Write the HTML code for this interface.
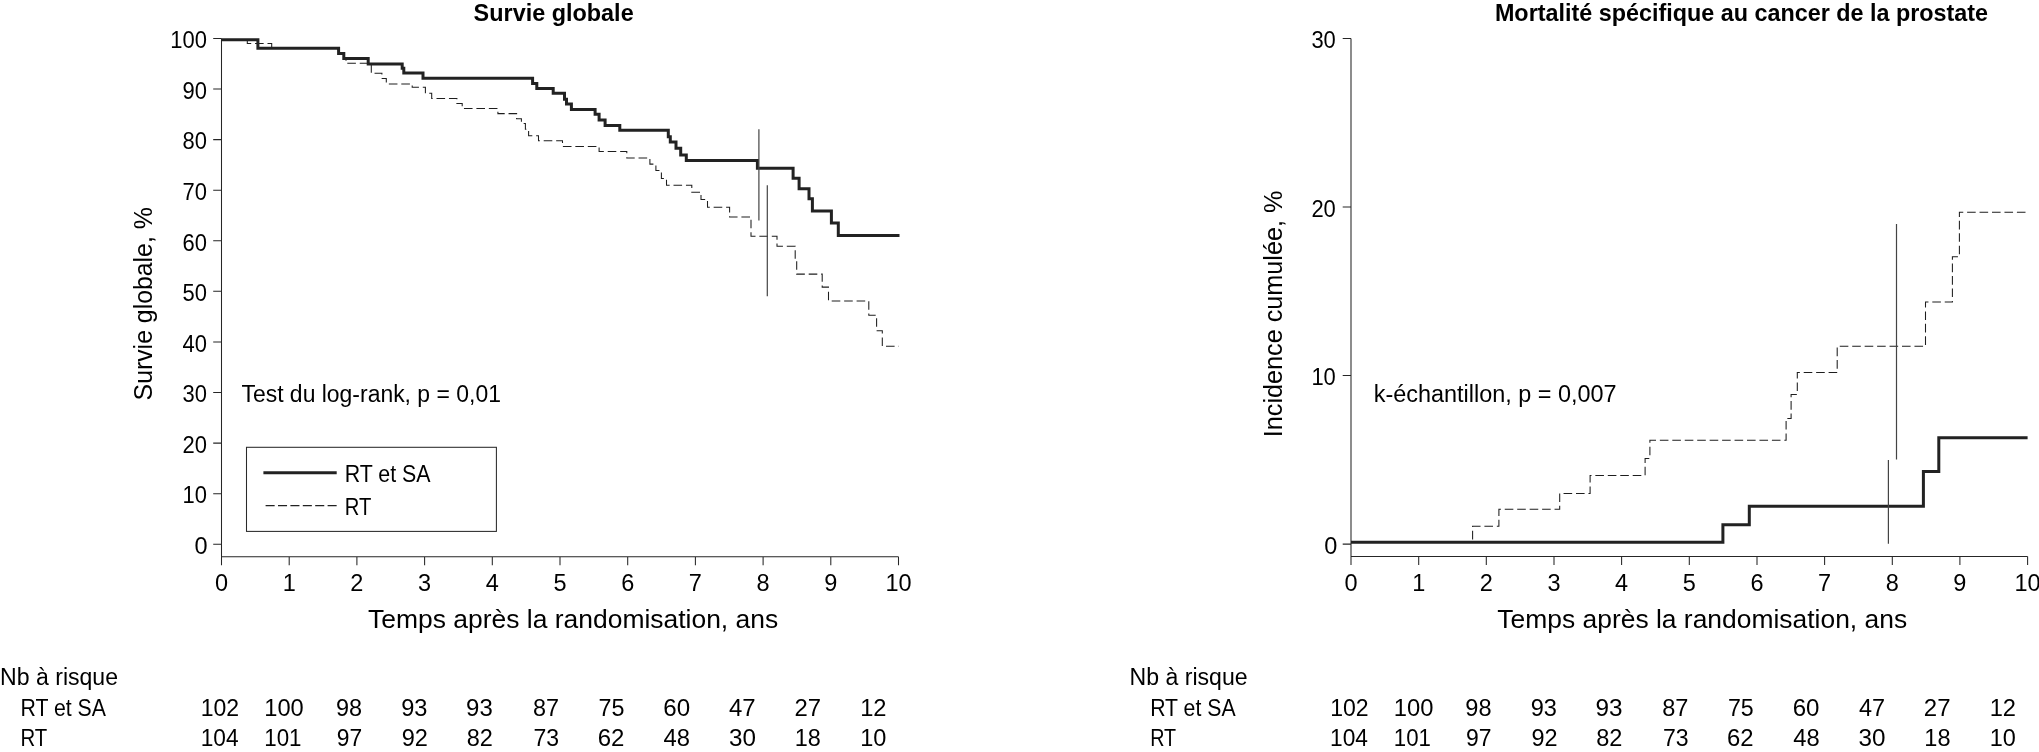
<!DOCTYPE html>
<html><head><meta charset="utf-8"><title>Survie globale</title>
<style>html,body{margin:0;padding:0;background:#fff;}body{width:2039px;height:752px;overflow:hidden;}svg{display:block;will-change:transform;}</style></head><body>
<svg width="2039" height="752" viewBox="0 0 2039 752">
<rect width="2039" height="752" fill="#fff"/>
<path d="M221.5,38.4 V556.7 H898.5 M213.2,544.3 H221.5 M213.2,493.7 H221.5 M213.2,443.1 H221.5 M213.2,392.5 H221.5 M213.2,341.9 H221.5 M213.2,291.3 H221.5 M213.2,240.8 H221.5 M213.2,190.2 H221.5 M213.2,139.6 H221.5 M213.2,89.0 H221.5 M213.2,38.4 H221.5 M221.5,556.7 V565.2 M289.2,556.7 V565.2 M356.9,556.7 V565.2 M424.6,556.7 V565.2 M492.3,556.7 V565.2 M560.0,556.7 V565.2 M627.7,556.7 V565.2 M695.4,556.7 V565.2 M763.1,556.7 V565.2 M830.8,556.7 V565.2 M898.5,556.7 V565.2 M1351,38.4 V556.5 H2027.6 M1342.7,544.1 H1351 M1342.7,375.5 H1351 M1342.7,207.0 H1351 M1342.7,38.4 H1351 M1351.0,556.5 V565 M1418.7,556.5 V565 M1486.3,556.5 V565 M1554.0,556.5 V565 M1621.6,556.5 V565 M1689.3,556.5 V565 M1757.0,556.5 V565 M1824.6,556.5 V565 M1892.3,556.5 V565 M1959.9,556.5 V565 M2027.6,556.5 V565" fill="none" stroke="#262626" stroke-width="1.05"/>
<path d="M221.5,39.6 H247.3 V43.4 H271.7 V48.2 H338.6 V53.4 H343.8 V58.5 H346 V63.2 H371.3 V73.3 H381.9 V78.5 H386.3 V83.9 H412.2 V87.3 H425.4 V93.3 H431.7 V98.5 H456.9 V103.4 H462.2 V108.4 H497.9 V113.6 H516.6 V118.8 H521.4 V123.4 H525.4 V129.3 H528.6 V135.8 H538.5 V140.7 H562.5 V146.4 H599.1 V151.4 H626.8 V157.9 H649.9 V164.1 H655.9 V170.5 H661.4 V178.5 H666.5 V185.2 H691.8 V192.2 H701 V199.5 H707.5 V207.3 H729.6 V216.9 H751 V236.3 H777 V246.2 H795.2 V259.7 H796.7 V274.1 H822.2 V287.1 H828.5 V300.9 H868.8 V315.3 H876.6 V330.7 H882.3 V346.2 H898.8" fill="none" stroke="#1e1e1e" stroke-width="1.05" stroke-dasharray="8.6 3.85"/>
<path d="M1351,542.3 H1472.6 V526.3 H1498.9 V509.3 H1559.7 V493.4 H1590.1 V475.4 H1645.1 V458.5 H1649.9 V440.3 H1786.1 V418.4 H1791.1 V394.4 H1797.3 V372.5 H1837.2 V346.3 H1925.5 V301.9 H1952.4 V256.7 H1959.4 V212.2 H2027.7" fill="none" stroke="#1e1e1e" stroke-width="1.05" stroke-dasharray="8.6 3.85"/>
<path d="M221.5,39.7 H257.9 V48.2 H338.6 V53.4 H343.8 V58.5 H368.2 V64.1 H402.2 V68.3 H403.8 V73.0 H423 V78.2 H532.6 V83.5 H536.8 V88.6 H553.2 V93.2 H564.5 V99.2 H566.5 V103.9 H571.4 V109.5 H595.1 V114.3 H599.1 V120.1 H605.1 V125.4 H619.8 V130.2 H668.3 V136.8 H670.3 V142.1 H676 V148.3 H680.7 V154.9 H686.3 V160.4 H757.4 V168.2 H793.1 V178.2 H799.1 V188.8 H809 V198.8 H812.4 V210.9 H831.4 V223.1 H838.3 V235.5 H899.5" fill="none" stroke="#222" stroke-width="3"/>
<path d="M1351,542.3 H1722.9 V524.8 H1749.3 V506.2 H1923.4 V471.6 H1938.8 V437.7 H2027.6" fill="none" stroke="#222" stroke-width="3"/>
<path d="M758.9,129.3 V220.5 M767.3,185.2 V296.2 M1896.5,223.9 V459.6 M1888.4,460 V543.8" fill="none" stroke="#444" stroke-width="1.2"/>
<rect x="246.5" y="447.3" width="249.9" height="84.1" fill="none" stroke="#2a2a2a" stroke-width="1.05"/>
<path d="M263.4,472.8 H336.7" stroke="#222" stroke-width="3"/>
<path d="M265.6,505.6 H337" stroke="#222" stroke-width="1.2" stroke-dasharray="9.05 3.35"/>
<g font-family="'Liberation Sans', Arial, sans-serif" fill="#000" font-size="23.5">
<text x="473.62" y="20.75" font-weight="bold" font-size="23.8" textLength="160.05" lengthAdjust="spacingAndGlyphs">Survie globale</text>
<text x="1494.92" y="20.8" font-weight="bold" font-size="23.8" textLength="493.21" lengthAdjust="spacingAndGlyphs">Mortalité spécifique au cancer de la prostate</text>
<text x="207.66" y="554.0" text-anchor="end">0</text>
<text x="206.87" y="503.4" text-anchor="end" textLength="24.4" lengthAdjust="spacingAndGlyphs">10</text>
<text x="206.87" y="452.8" text-anchor="end" textLength="24.4" lengthAdjust="spacingAndGlyphs">20</text>
<text x="206.87" y="402.2" text-anchor="end" textLength="24.4" lengthAdjust="spacingAndGlyphs">30</text>
<text x="206.87" y="351.6" text-anchor="end" textLength="24.4" lengthAdjust="spacingAndGlyphs">40</text>
<text x="206.87" y="301.0" text-anchor="end" textLength="24.4" lengthAdjust="spacingAndGlyphs">50</text>
<text x="206.87" y="250.5" text-anchor="end" textLength="24.4" lengthAdjust="spacingAndGlyphs">60</text>
<text x="206.87" y="199.9" text-anchor="end" textLength="24.4" lengthAdjust="spacingAndGlyphs">70</text>
<text x="206.87" y="149.3" text-anchor="end" textLength="24.4" lengthAdjust="spacingAndGlyphs">80</text>
<text x="206.87" y="98.7" text-anchor="end" textLength="24.4" lengthAdjust="spacingAndGlyphs">90</text>
<text x="206.87" y="48.1" text-anchor="end" textLength="36.6" lengthAdjust="spacingAndGlyphs">100</text>
<text x="1337.27" y="553.8" text-anchor="end">0</text>
<text x="1335.81" y="385.2" text-anchor="end" textLength="24.4" lengthAdjust="spacingAndGlyphs">10</text>
<text x="1335.81" y="216.7" text-anchor="end" textLength="24.4" lengthAdjust="spacingAndGlyphs">20</text>
<text x="1335.81" y="48.1" text-anchor="end" textLength="24.4" lengthAdjust="spacingAndGlyphs">30</text>
<text x="221.5" y="590.7" text-anchor="middle">0</text>
<text x="1351.0" y="590.7" text-anchor="middle">0</text>
<text x="289.2" y="590.7" text-anchor="middle">1</text>
<text x="1418.7" y="590.7" text-anchor="middle">1</text>
<text x="356.9" y="590.7" text-anchor="middle">2</text>
<text x="1486.3" y="590.7" text-anchor="middle">2</text>
<text x="424.6" y="590.7" text-anchor="middle">3</text>
<text x="1554.0" y="590.7" text-anchor="middle">3</text>
<text x="492.3" y="590.7" text-anchor="middle">4</text>
<text x="1621.6" y="590.7" text-anchor="middle">4</text>
<text x="560.0" y="590.7" text-anchor="middle">5</text>
<text x="1689.3" y="590.7" text-anchor="middle">5</text>
<text x="627.7" y="590.7" text-anchor="middle">6</text>
<text x="1757.0" y="590.7" text-anchor="middle">6</text>
<text x="695.4" y="590.7" text-anchor="middle">7</text>
<text x="1824.6" y="590.7" text-anchor="middle">7</text>
<text x="763.1" y="590.7" text-anchor="middle">8</text>
<text x="1892.3" y="590.7" text-anchor="middle">8</text>
<text x="830.8" y="590.7" text-anchor="middle">9</text>
<text x="1959.9" y="590.7" text-anchor="middle">9</text>
<text x="898.5" y="590.7" text-anchor="middle">10</text>
<text x="2027.6" y="590.7" text-anchor="middle">10</text>
<text x="368.08" y="627.7" font-size="26.4" textLength="410.13" lengthAdjust="spacingAndGlyphs">Temps après la randomisation, ans</text>
<text x="1497.36" y="627.7" font-size="26.4" textLength="409.75" lengthAdjust="spacingAndGlyphs">Temps après la randomisation, ans</text>
<text transform="translate(152.4,400.42) rotate(-90)" x="0" y="0" font-size="26.4" textLength="193.18" lengthAdjust="spacingAndGlyphs">Survie globale, %</text>
<text transform="translate(1281.6,437.23) rotate(-90)" x="0" y="0" font-size="26.4" textLength="246.67" lengthAdjust="spacingAndGlyphs">Incidence cumulée, %</text>
<text x="241.45" y="401.9" textLength="259.46" lengthAdjust="spacingAndGlyphs">Test du log-rank, p = 0,01</text>
<text x="1373.71" y="401.9" textLength="242.92" lengthAdjust="spacingAndGlyphs">k-échantillon, p = 0,007</text>
<text x="344.67" y="481.6" textLength="85.92" lengthAdjust="spacingAndGlyphs">RT et SA</text>
<text x="344.84" y="514.8" textLength="26.62" lengthAdjust="spacingAndGlyphs">RT</text>
<text x="0.12" y="684.7" textLength="117.9" lengthAdjust="spacingAndGlyphs">Nb à risque</text>
<text x="20.45" y="715.6" textLength="85.49" lengthAdjust="spacingAndGlyphs">RT et SA</text>
<text x="20.45" y="746.3" textLength="26.81" lengthAdjust="spacingAndGlyphs">RT</text>
<text x="219.9" y="715.6" text-anchor="middle" textLength="38.4" lengthAdjust="spacingAndGlyphs">102</text>
<text x="219.63" y="746.2" text-anchor="middle" textLength="37.87" lengthAdjust="spacingAndGlyphs">104</text>
<text x="283.98" y="715.6" text-anchor="middle" textLength="39.48" lengthAdjust="spacingAndGlyphs">100</text>
<text x="282.89" y="746.2" text-anchor="middle" textLength="37.25" lengthAdjust="spacingAndGlyphs">101</text>
<text x="349.01" y="715.6" text-anchor="middle" textLength="26.08" lengthAdjust="spacingAndGlyphs">98</text>
<text x="349.48" y="746.2" text-anchor="middle" textLength="25.38" lengthAdjust="spacingAndGlyphs">97</text>
<text x="414.35" y="715.6" text-anchor="middle" textLength="26.23" lengthAdjust="spacingAndGlyphs">93</text>
<text x="414.79" y="746.2" text-anchor="middle" textLength="26.16" lengthAdjust="spacingAndGlyphs">92</text>
<text x="479.38" y="715.6" text-anchor="middle" textLength="26.66" lengthAdjust="spacingAndGlyphs">93</text>
<text x="479.83" y="746.2" text-anchor="middle" textLength="26.11" lengthAdjust="spacingAndGlyphs">82</text>
<text x="545.95" y="715.6" text-anchor="middle" textLength="26.04" lengthAdjust="spacingAndGlyphs">87</text>
<text x="546.28" y="746.2" text-anchor="middle" textLength="25.61" lengthAdjust="spacingAndGlyphs">73</text>
<text x="611.41" y="715.6" text-anchor="middle" textLength="25.96" lengthAdjust="spacingAndGlyphs">75</text>
<text x="611.13" y="746.2" text-anchor="middle" textLength="26.71" lengthAdjust="spacingAndGlyphs">62</text>
<text x="676.64" y="715.6" text-anchor="middle" textLength="26.85" lengthAdjust="spacingAndGlyphs">60</text>
<text x="676.79" y="746.2" text-anchor="middle" textLength="26.44" lengthAdjust="spacingAndGlyphs">48</text>
<text x="742.31" y="715.6" text-anchor="middle" textLength="26.63" lengthAdjust="spacingAndGlyphs">47</text>
<text x="742.48" y="746.2" text-anchor="middle" textLength="26.93" lengthAdjust="spacingAndGlyphs">30</text>
<text x="807.75" y="715.6" text-anchor="middle" textLength="26.57" lengthAdjust="spacingAndGlyphs">27</text>
<text x="807.86" y="746.2" text-anchor="middle" textLength="26.06" lengthAdjust="spacingAndGlyphs">18</text>
<text x="873.38" y="715.6" text-anchor="middle" textLength="26.36" lengthAdjust="spacingAndGlyphs">12</text>
<text x="873.35" y="746.2" text-anchor="middle" textLength="26.18" lengthAdjust="spacingAndGlyphs">10</text>
<text x="1129.51" y="684.7" textLength="118.1" lengthAdjust="spacingAndGlyphs">Nb à risque</text>
<text x="1150.18" y="715.6" textLength="85.37" lengthAdjust="spacingAndGlyphs">RT et SA</text>
<text x="1150.23" y="746.3" textLength="25.96" lengthAdjust="spacingAndGlyphs">RT</text>
<text x="1349.41" y="715.6" text-anchor="middle" textLength="38.45" lengthAdjust="spacingAndGlyphs">102</text>
<text x="1349.05" y="746.2" text-anchor="middle" textLength="37.96" lengthAdjust="spacingAndGlyphs">104</text>
<text x="1413.59" y="715.6" text-anchor="middle" textLength="39.67" lengthAdjust="spacingAndGlyphs">100</text>
<text x="1412.36" y="746.2" text-anchor="middle" textLength="37.12" lengthAdjust="spacingAndGlyphs">101</text>
<text x="1478.46" y="715.6" text-anchor="middle" textLength="26.21" lengthAdjust="spacingAndGlyphs">98</text>
<text x="1478.77" y="746.2" text-anchor="middle" textLength="25.49" lengthAdjust="spacingAndGlyphs">97</text>
<text x="1543.86" y="715.6" text-anchor="middle" textLength="26.24" lengthAdjust="spacingAndGlyphs">93</text>
<text x="1544.43" y="746.2" text-anchor="middle" textLength="26.08" lengthAdjust="spacingAndGlyphs">92</text>
<text x="1608.94" y="715.6" text-anchor="middle" textLength="27.04" lengthAdjust="spacingAndGlyphs">93</text>
<text x="1609.27" y="746.2" text-anchor="middle" textLength="26.2" lengthAdjust="spacingAndGlyphs">82</text>
<text x="1675.35" y="715.6" text-anchor="middle" textLength="26.18" lengthAdjust="spacingAndGlyphs">87</text>
<text x="1675.7" y="746.2" text-anchor="middle" textLength="25.65" lengthAdjust="spacingAndGlyphs">73</text>
<text x="1740.82" y="715.6" text-anchor="middle" textLength="25.81" lengthAdjust="spacingAndGlyphs">75</text>
<text x="1740.37" y="746.2" text-anchor="middle" textLength="26.56" lengthAdjust="spacingAndGlyphs">62</text>
<text x="1806.08" y="715.6" text-anchor="middle" textLength="26.81" lengthAdjust="spacingAndGlyphs">60</text>
<text x="1806.4" y="746.2" text-anchor="middle" textLength="26.41" lengthAdjust="spacingAndGlyphs">48</text>
<text x="1871.99" y="715.6" text-anchor="middle" textLength="26.09" lengthAdjust="spacingAndGlyphs">47</text>
<text x="1871.9" y="746.2" text-anchor="middle" textLength="26.98" lengthAdjust="spacingAndGlyphs">30</text>
<text x="1937.23" y="715.6" text-anchor="middle" textLength="26.69" lengthAdjust="spacingAndGlyphs">27</text>
<text x="1937.41" y="746.2" text-anchor="middle" textLength="26.18" lengthAdjust="spacingAndGlyphs">18</text>
<text x="2002.87" y="715.6" text-anchor="middle" textLength="26.32" lengthAdjust="spacingAndGlyphs">12</text>
<text x="2002.71" y="746.2" text-anchor="middle" textLength="26.12" lengthAdjust="spacingAndGlyphs">10</text>
</g>
</svg>
</body></html>
